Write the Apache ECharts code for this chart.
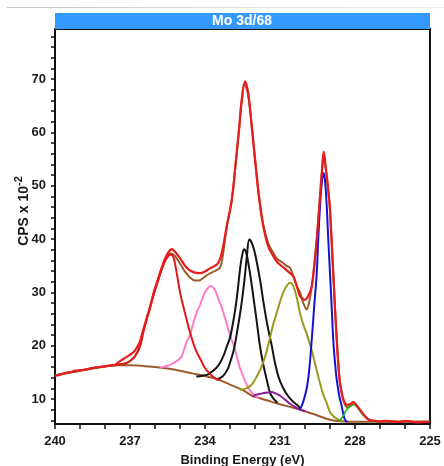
<!DOCTYPE html>
<html>
<head>
<meta charset="utf-8">
<script src="https://cdn.jsdelivr.net/npm/echarts@6/dist/echarts.min.js"></script>
<style>html,body{margin:0;padding:0;background:#fff;}#c{width:444px;height:466px;}</style>
</head>
<body>
<div id="c"></div>
<script>
// ---- data (x = binding energy eV, y = CPS x 10^-2) ----
const titleText = 'Mo 3d/68';
const xTickLabels = [225, 228, 231, 234, 237, 240];
const yTickLabels = [10, 20, 30, 40, 50, 60, 70];
const yMinorTicks = [6,8,10,12,14,16,18,20,22,24,26,28,30,32,34,36,38,40,42,44,46,48,50,52,54,56,58,60,62,64,66,68,70,72,74,76,78];

const background = [[240,14.4],[239.5,14.9],[239,15.3],[238.5,15.8],[238,16.1],[237.5,16.3],[237,16.3],[236.5,16.2],[236,16.0],[235.5,15.7],[235,15.3],[234.5,14.8],[234,14.3],[233.5,13.7],[233,12.7],[232.5,11.7],[232.2,10.8],[232,10.4],[231.5,9.7],[231,9.0],[230.5,8.4],[230,7.7],[229.5,6.9],[229,6.1],[228.6,5.8],[228,5.7],[227,5.7],[226,5.7],[225,5.7]];

const rawData = [[240,14.4],[239.8,14.5],[239.6,14.9],[239.4,15.0],[239.2,15.3],[239,15.4],[238.8,15.5],[238.6,15.7],[238.4,15.9],[238.2,16.0],[238,16.1],[237.8,16.3],[237.6,16.4],[237.4,17.1],[237.2,17.7],[237,18.3],[236.85,18.8],[236.73,19.6],[236.6,20.8],[236.47,23.0],[236.33,25.2],[236.2,27.2],[236.05,30.0],[235.9,32.2],[235.75,34.4],[235.6,36.3],[235.47,37.5],[235.33,38.1],[235.2,37.6],[235.0,36.4],[234.8,35.0],[234.6,34.1],[234.4,33.7],[234.2,33.6],[234.0,33.9],[233.8,34.5],[233.6,35.0],[233.47,35.5],[233.33,37.4],[233.13,42.4],[232.93,47.4],[232.76,54.9],[232.63,61.1],[232.53,66.2],[232.4,69.6],[232.27,67.4],[232.13,61.1],[232.0,54.9],[231.83,47.4],[231.67,42.4],[231.47,38.6],[231.27,36.8],[231.1,35.6],[231.0,35.2],[230.8,34.4],[230.6,33.6],[230.47,33.0],[230.33,31.2],[230.2,29.3],[230.07,28.7],[230.0,28.6],[229.87,29.3],[229.73,31.1],[229.63,35.0],[229.53,39.9],[229.43,46.0],[229.33,52.4],[229.25,56.4],[229.17,53.5],[229.07,49.3],[229.0,45.5],[228.87,33.6],[228.8,27.0],[228.73,21.1],[228.67,16.5],[228.6,13.0],[228.5,10.5],[228.4,9.25],[228.3,8.9],[228.2,9.0],[228.07,9.4],[227.95,8.9],[227.8,8.0],[227.67,7.2],[227.53,6.4],[227.4,6.0],[227.2,5.9],[227,5.8],[226.8,5.9],[226.5,5.8],[226.2,5.7],[226,5.9],[225.8,5.8],[225.5,5.6],[225.2,5.7],[225,5.7]];

const envelope = [[240,14.4],[239,15.3],[238,16.1],[237.5,16.35],[237.13,16.75],[236.95,17.3],[236.8,18.0],[236.6,19.9],[236.47,22.5],[236.33,25.0],[236.2,27.2],[236.05,29.8],[235.9,32.0],[235.75,34.2],[235.6,36.0],[235.45,37.1],[235.35,37.3],[235.2,36.8],[235.0,35.4],[234.8,33.9],[234.6,32.8],[234.4,32.2],[234.25,32.2],[234.1,32.6],[233.9,33.3],[233.7,33.8],[233.55,34.1],[233.4,34.6],[233.3,36.5],[233.13,42.2],[232.93,47.2],[232.76,54.6],[232.63,60.8],[232.53,65.8],[232.42,69.0],[232.3,67.6],[232.13,61.3],[232.0,55.2],[231.83,47.8],[231.67,42.8],[231.47,39.2],[231.27,37.4],[231.1,36.2],[230.9,35.6],[230.75,35.0],[230.6,34.6],[230.45,32.8],[230.3,30.8],[230.2,30.0],[230.07,28.0],[229.93,26.8],[229.85,27.8],[229.78,29.5],[229.73,31.1],[229.63,35.0],[229.53,39.9],[229.43,46.0],[229.33,52.0],[229.26,55.2],[229.18,53.6],[229.07,49.0],[229.0,45.3],[228.87,33.6],[228.73,21.1],[228.6,13.0],[228.5,10.3],[228.4,8.9],[228.3,8.4],[228.2,8.6],[228.07,9.0],[227.95,8.7],[227.8,7.8],[227.67,7.0],[227.5,6.3],[227.3,5.9],[227.0,5.7],[225,5.7]];

const compRed = [[237.6,16.3],[237.4,16.5],[237.13,16.75],[236.95,17.3],[236.8,18.0],[236.6,19.9],[236.47,22.5],[236.33,25.0],[236.2,27.0],[236.05,29.6],[235.9,31.8],[235.75,34.0],[235.6,35.8],[235.45,36.9],[235.35,37.1],[235.25,36.4],[235.13,33.6],[235.0,30.0],[234.87,27.4],[234.73,24.8],[234.6,22.5],[234.45,20.2],[234.33,18.8],[234.2,17.6],[234.0,15.8],[233.8,14.7],[233.6,13.9],[233.4,13.5]];

const compPink = [[235.8,15.9],[235.6,16.1],[235.4,16.4],[235.2,16.9],[235.0,17.6],[234.93,18.0],[234.75,20.5],[234.6,22.0],[234.47,24.2],[234.3,26.6],[234.2,27.6],[234.07,29.3],[233.92,30.6],[233.77,31.2],[233.6,30.4],[233.45,28.6],[233.33,27.2],[233.15,24.4],[233.0,22.0],[232.85,20.0],[232.73,18.0],[232.6,15.8],[232.4,13.4],[232.2,11.6],[232.0,10.6],[231.85,10.1]];

const compBlackA = [[234.35,14.2],[234.1,14.35],[233.9,14.55],[233.7,15.2],[233.55,15.8],[233.4,16.75],[233.25,18.2],[233.13,19.8],[233.0,21.5],[232.93,23.0],[232.8,26.5],[232.7,30.0],[232.6,34.3],[232.52,36.8],[232.44,38.1],[232.35,37.4],[232.25,35.0],[232.15,32.0],[232.07,29.3],[231.93,24.5],[231.8,19.9],[231.67,16.5],[231.53,13.6],[231.4,11.2],[231.27,10.1],[231.1,9.3]];

const compBlackB = [[233.55,13.6],[233.3,14.2],[233.1,15.5],[233.0,16.8],[232.85,19.2],[232.7,23.0],[232.55,27.5],[232.42,32.4],[232.32,37.0],[232.23,39.9],[232.12,39.2],[232.0,37.3],[231.8,32.4],[231.65,27.8],[231.47,23.0],[231.33,20.0],[231.2,16.75],[231.05,14.0],[230.9,12.3],[230.7,10.7],[230.5,9.6],[230.3,8.8],[230.2,8.3]];

const compOlive = [[232.6,11.7],[232.4,11.9],[232.2,12.4],[232.05,13.2],[231.93,14.2],[231.8,15.4],[231.67,16.9],[231.53,19.0],[231.4,21.5],[231.27,24.0],[231.13,26.2],[231.0,28.2],[230.87,30.0],[230.73,31.2],[230.6,31.8],[230.47,31.2],[230.33,29.0],[230.2,26.1],[230.07,24.0],[229.93,22.2],[229.8,20.2],[229.67,18.0],[229.53,15.3],[229.4,13.0],[229.27,10.8],[229.13,9.2],[229.0,7.5],[228.87,6.8],[228.73,6.3],[228.6,6.0],[228.45,5.8]];

const compPurple = [[232.1,10.4],[231.93,10.8],[231.75,11.0],[231.5,11.2],[231.33,11.3],[231.2,11.1],[231.0,10.6],[230.8,9.9],[230.6,9.1],[230.4,8.5],[230.2,8.0],[230.0,7.7]];

const compBlue = [[230.2,8.0],[230.07,9.5],[229.93,12.0],[229.83,15.5],[229.73,21.1],[229.63,27.5],[229.53,33.6],[229.47,40.0],[229.4,46.1],[229.33,50.5],[229.26,52.4],[229.2,51.0],[229.13,46.1],[229.07,40.0],[229.0,33.6],[228.93,27.0],[228.87,21.1],[228.8,16.8],[228.73,13.6],[228.63,10.6],[228.53,8.6],[228.47,7.2],[228.4,6.1],[228.3,5.7]];

const compGreen = [[228.65,5.8],[228.55,6.3],[228.45,7.0],[228.33,8.0],[228.2,8.6],[228.07,9.0],[227.95,8.7],[227.8,7.8],[227.67,7.0],[227.5,6.3],[227.3,5.9],[227.1,5.7]];

// ---- chart ----
const FONT = '"Liberation Sans", Arial, sans-serif';
const chart = echarts.init(document.getElementById('c'), null, {renderer: 'canvas'});

function line(name, data, color, width, z) {
  return {
    name: name, type: 'line', data: data, showSymbol: false, symbol: 'none',
    smooth: 0.35, z: z, silent: true,
    lineStyle: {color: color, width: width}
  };
}

const option = {
  animation: false,
  backgroundColor: '#ffffff',
  grid: {left: 55, right: 14, top: 29, bottom: 42, show: true, borderColor: '#111', borderWidth: 2, backgroundColor: 'transparent', containLabel: false, outerBoundsMode: 'none'},
  xAxis: {
    type: 'value', inverse: true, min: 225, max: 240, interval: 3,
    name: 'Binding Energy (eV)', nameLocation: 'middle', nameGap: 30,
    nameTextStyle: {fontFamily: FONT, fontWeight: 'bold', fontSize: 13, color: '#1a1a1a'},
    axisLine: {show: true, lineStyle: {color: '#111', width: 2}},
    axisTick: {show: true, inside: false, length: 5, lineStyle: {color: '#111', width: 1.5}},
    minorTick: {show: true, splitNumber: 3, length: 5, lineStyle: {color: '#111', width: 1.5}},
    axisLabel: {fontFamily: FONT, fontWeight: 'bold', fontSize: 13, color: '#1a1a1a', margin: 11,
      formatter: function (v) { return xTickLabels.indexOf(v) >= 0 ? String(v) : ''; }},
    splitLine: {show: false}
  },
  yAxis: {
    type: 'value', min: 5.3, max: 79.4,
    axisLine: {show: true, lineStyle: {color: '#111', width: 2}},
    axisTick: {show: true, inside: false, length: 4, customValues: yMinorTicks, lineStyle: {color: '#111', width: 1.5}},
    axisLabel: {fontFamily: FONT, fontWeight: 'bold', fontSize: 13, color: '#1a1a1a', margin: 9, customValues: yTickLabels, padding: [0, 0, 5, 0]},
    splitLine: {show: false}
  },
  series: [
    line('background', background, '#9c5a2a', 2, 2),
    line('envelope', envelope, '#9c5a2a', 2, 3),
    line('pink', compPink, '#ff7ccb', 2, 4),
    line('blackA', compBlackA, '#141414', 2, 5),
    line('blackB', compBlackB, '#141414', 2, 5),
    line('olive', compOlive, '#9a9a1e', 2, 5),
    line('purple', compPurple, '#8a1a9a', 2, 5),
    line('blue', compBlue, '#1414d8', 2, 6),
    line('green', compGreen, '#1fb51f', 1.6, 6),
    line('red component', compRed, '#e01818', 2, 7),
    line('raw', rawData, '#e81c1c', 2.2, 8)
  ],
  graphic: [
    {type: 'rect', shape: {x: 7, y: 7, width: 437, height: 1}, style: {fill: {type: 'linear', x: 0, y: 0, x2: 1, y2: 0, colorStops: [{offset: 0, color: '#c8c8c8'}, {offset: 1, color: '#eeeeee'}]}}, silent: true},
    {type: 'rect', shape: {x: 55, y: 13, width: 375, height: 16}, style: {fill: '#3399ff'}, silent: true, z: 10},
    {type: 'text', x: 242, y: 21, silent: true, z: 11,
      style: {text: titleText, fill: '#ffffff', font: 'bold 14px ' + FONT, align: 'center', verticalAlign: 'middle'}},
    {type: 'text', x: 24, y: 211, rotation: Math.PI / 2, silent: true,
      style: {text: '{a|CPS x 10}{b|-2}', align: 'center', verticalAlign: 'middle', fill: '#1a1a1a',
        rich: {a: {fontFamily: FONT, fontWeight: 'bold', fontSize: 14, fill: '#1a1a1a'},
               b: {fontFamily: FONT, fontWeight: 'bold', fontSize: 11, fill: '#1a1a1a', padding: [0, 0, 10, 0]}}}}
  ]
};
chart.setOption(option);
</script>
</body>
</html>
